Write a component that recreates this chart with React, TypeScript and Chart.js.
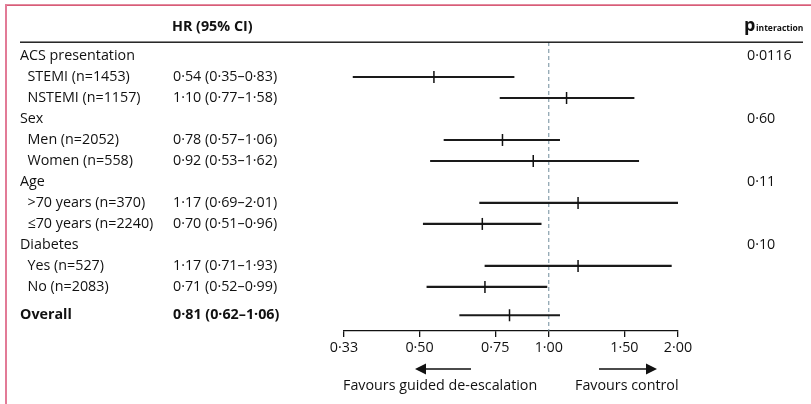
import React, { useEffect, useRef } from "react";
import { Chart, registerables } from "chart.js";

Chart.register(...registerables);

// ---- data ----
const groupLabels = ["ACS presentation", "Sex", "Age", "Diabetes"];
const groupRows = [0, 3, 6, 9];
const pInteraction = ["0·0116", "0·60", "0·11", "0·10"];

const subLabels = [
  "STEMI (n=1453)",
  "NSTEMI (n=1157)",
  "Men (n=2052)",
  "Women (n=558)",
  ">70 years (n=370)",
  "≤70 years (n=2240)",
  "Yes (n=527)",
  "No (n=2083)",
  "Overall",
];
const subRows = [1, 2, 4, 5, 7, 8, 10, 11, 12.35];
const hrText = [
  "0·54 (0·35–0·83)",
  "1·10 (0·77–1·58)",
  "0·78 (0·57–1·06)",
  "0·92 (0·53–1·62)",
  "1·17 (0·69–2·01)",
  "0·70 (0·51–0·96)",
  "1·17 (0·71–1·93)",
  "0·71 (0·52–0·99)",
  "0·81 (0·62–1·06)",
];
const hr = [0.54, 1.1, 0.78, 0.92, 1.17, 0.7, 1.17, 0.71, 0.81];
const ciLow = [0.35, 0.77, 0.57, 0.53, 0.69, 0.51, 0.71, 0.52, 0.62];
const ciHigh = [0.83, 1.58, 1.06, 1.62, 2.01, 0.96, 1.93, 0.99, 1.06];

const tickValues = [1 / 3, 0.5, 0.75, 1, 1.5, 2];
const tickLabels = ["0·33", "0·50", "0·75", "1·00", "1·50", "2·00"];

const X_MIN = 1 / 3;
const X_MAX = 2;
const Y_MIN = -0.667;
const Y_MAX = 13.1;
const FONT = '"Open Sans", "DejaVu Sans", sans-serif';
const FS = 14.3;

const textPlugin = {
  id: "forestText",
  afterDraw(chart: any) {
    const ctx = chart.ctx as CanvasRenderingContext2D;
    const ys = chart.scales.y;
    ctx.save();
    // frame
    ctx.fillStyle = "#c8173f";
    ctx.fillRect(5, 4.5, 806, 1.2);
    ctx.fillStyle = "#e27b97";
    ctx.fillRect(5, 4.5, 2, 400);

    ctx.fillStyle = "#111";
    ctx.textBaseline = "middle";
    ctx.textAlign = "left";
    // header
    ctx.font = `bold ${FS}px ${FONT}`;
    ctx.fillText("HR (95% CI)", 172, 27);
    ctx.font = `bold 18px ${FONT}`;
    ctx.fillText("p", 744, 26);
    ctx.font = `bold 8.5px ${FONT}`;
    ctx.fillText("interaction", 756, 29);
    // header line
    ctx.fillRect(20, 41.5, 783, 1.4);

    // groups
    ctx.font = `${FS}px ${FONT}`;
    groupLabels.forEach((g, i) => {
      const y = ys.getPixelForValue(groupRows[i]);
      ctx.fillText(g, 20, y);
      ctx.fillText(pInteraction[i], 747, y);
    });
    subLabels.forEach((s, i) => {
      const y = ys.getPixelForValue(subRows[i]);
      const last = i === subLabels.length - 1;
      ctx.font = `${last ? "bold " : ""}${FS}px ${FONT}`;
      ctx.fillText(s, last ? 20 : 27.5, y);
      ctx.fillText(hrText[i], 173, y);
    });

    // arrows
    ctx.strokeStyle = "#111";
    ctx.lineWidth = 1.5;
    const ay = 369;
    ctx.beginPath();
    ctx.moveTo(424, ay);
    ctx.lineTo(471, ay);
    ctx.moveTo(599, ay);
    ctx.lineTo(647, ay);
    ctx.stroke();
    ctx.beginPath();
    ctx.moveTo(415, ay);
    ctx.lineTo(426, ay - 5.5);
    ctx.lineTo(426, ay + 5.5);
    ctx.closePath();
    ctx.fill();
    ctx.beginPath();
    ctx.moveTo(657, ay);
    ctx.lineTo(646, ay - 5.5);
    ctx.lineTo(646, ay + 5.5);
    ctx.closePath();
    ctx.fill();

    ctx.font = `${FS}px ${FONT}`;
    ctx.fillText("Favours guided de-escalation", 343, 386);
    ctx.fillText("Favours control", 575, 386);
    ctx.restore();
  },
};

export default function App() {
  const ref = useRef<HTMLCanvasElement | null>(null);
  useEffect(() => {
    document.body.style.margin = "0";
    if (!ref.current) return;
    const chart = new Chart(ref.current, {
      type: "bar",
      data: {
        datasets: [
          {
            type: "line",
            data: [
              { x: 1, y: Y_MIN },
              { x: 1, y: Y_MAX },
            ],
            borderColor: "#6f8c9b",
            borderDash: [4, 3],
            borderWidth: 1,
            pointRadius: 0,
            order: 3,
          } as any,
          {
            type: "bar",
            data: subRows.map((r, i) => ({ y: r, x: [ciLow[i], ciHigh[i]] })),
            backgroundColor: "#1a1a1a",
            borderWidth: 0,
            barThickness: 1.5,
            grouped: false,
            order: 2,
          } as any,
          {
            type: "scatter",
            data: subRows.map((r, i) => ({ y: r, x: hr[i] })),
            pointStyle: "line",
            rotation: 90,
            pointRadius: 6,
            pointHoverRadius: 6,
            borderColor: "#111",
            borderWidth: 1.5,
            order: 1,
          } as any,
        ],
      },
      options: {
        indexAxis: "y",
        animation: false,
        responsive: false,
        devicePixelRatio: 1,
        layout: { padding: { left: 344, right: 133, top: 42, bottom: 0 } },
        plugins: { legend: { display: false }, tooltip: { enabled: false } },
        scales: {
          y: {
            type: "linear",
            reverse: true,
            offset: false,
            grid: { offset: false, display: false },
            min: Y_MIN,
            max: Y_MAX,
            display: false,
          },
          x: {
            type: "logarithmic",
            offset: false,
            bounds: "data",
            beginAtZero: false,
            min: X_MIN,
            max: X_MAX,
            afterBuildTicks: (scale: any) => {
              scale.ticks = tickValues.map((v) => ({ value: v }));
              scale.min = X_MIN;
              scale.max = X_MAX;
            },
            afterFit: (scale: any) => {
              scale.height = 73;
            },
            ticks: {
              autoSkip: false,
              maxRotation: 0,
              padding: 2,
              color: "#111",
              font: { family: FONT, size: FS },
              callback: (_v: any, i: number) => tickLabels[i],
            },
            grid: {
              drawOnChartArea: false,
              drawTicks: true,
              tickLength: 6,
              color: "#111",
              lineWidth: 1.3,
            },
            border: { display: true, color: "#111", width: 1.3 },
          },
        },
      } as any,
      plugins: [textPlugin],
    });
    return () => chart.destroy();
  }, []);
  return (
    <div style={{ width: 811, height: 404 }}>
      <canvas ref={ref} width={811} height={404} style={{ display: "block" }} />
    </div>
  );
}
